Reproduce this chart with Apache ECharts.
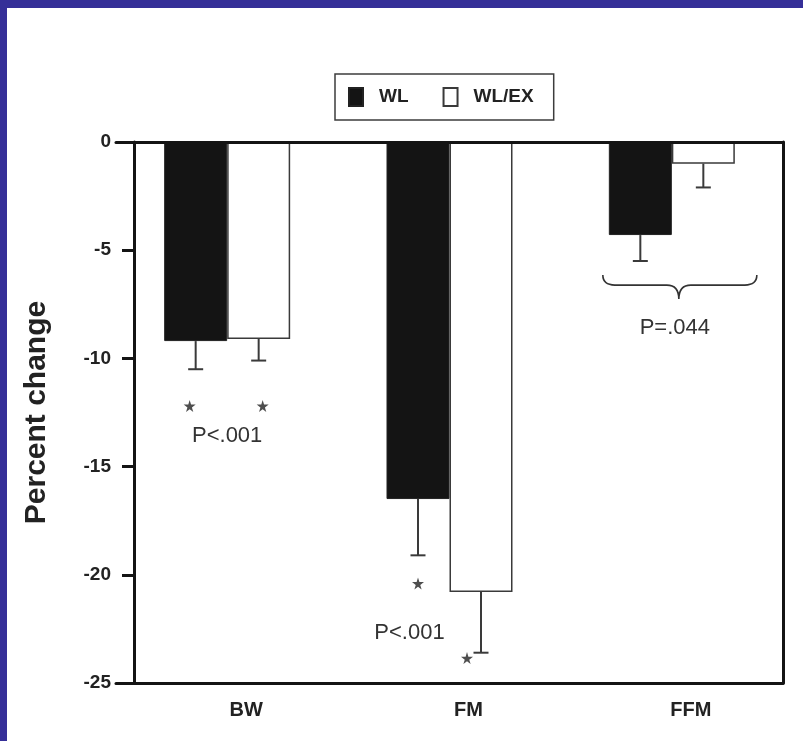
<!DOCTYPE html>
<html>
<head>
<meta charset="utf-8">
<title>Percent change</title>
<script src="https://cdn.jsdelivr.net/npm/echarts/dist/echarts.min.js"></script>
<style>
  html, body { margin: 0; padding: 0; background: #ffffff; }
  #wrap { position: relative; width: 803px; height: 741px; overflow: hidden; }
  #chart { position: absolute; left: 0; top: 0; width: 803px; height: 741px; }
  .edge { position: absolute; background: #352f98; z-index: 5; }
  .edge.top { left: 0; top: 0; width: 803px; height: 8px; }
  .edge.left { left: 0; top: 0; width: 7px; height: 741px; }
</style>
</head>
<body>
<div id="wrap">
  <div id="chart"></div>
  <div class="edge top"></div>
  <div class="edge left"></div>
</div>
<script>
// ---- data ----
const categories = ['BW', 'FM', 'FFM'];
const seriesNames = ['WL', 'WL/EX'];
const wlValues = [-9.2, -16.5, -4.3];
const wlErrors = [1.3, 2.6, 1.2];
const wlexValues = [-9.1, -20.8, -1.0];
const wlexErrors = [1.0, 2.8, 1.1];
const yMin = -25;
const yMax = 0;
const yStep = 5;
// significance stars (level on the y scale, null = none)
const wlStars = [-12.2, -20.4, null];
const wlexStars = [-12.2, -23.85, null];
// p-value notes per category and the level they sit at
const pTexts = ['P<.001', 'P<.001', 'P=.044'];
const pLevels = [-13.6, -22.7, -8.6];
// brace grouping the FFM pair (level of its upper ends)
const braceLevel = [-6.15];

// ---- styling ----
const BAR_W = 63;
const CAP_W = 15;
const INK = '#141414';
const SANS = "'Liberation Sans', Arial, sans-serif";
const STAR_PATH = 'path://M50,0 L61,35 L98,35 L68,57 L79,91 L50,70 L21,91 L32,57 L2,35 L39,35 Z';
const P_SHIFT = [0, -40, 3];          // horizontal nudges of the p-value notes
const STAR_SHIFT = [[-6, 0, 0], [4, -14, 0]];

const chart = echarts.init(document.getElementById('chart'), null, { renderer: 'canvas' });

function errorBars(values, errs, side) {
  return {
    type: 'custom',
    z: 4,
    silent: true,
    data: values.map((v, i) => [i, v, v - errs[i]]),
    renderItem(params, api) {
      const top = api.coord([api.value(0), api.value(1)]);
      const end = api.coord([api.value(0), api.value(2)]);
      const x = top[0] + side * BAR_W / 2;
      return {
        type: 'group',
        children: [
          { type: 'line', shape: { x1: x, y1: top[1], x2: x, y2: end[1] },
            style: { stroke: '#3a3a3a', lineWidth: 2 } },
          { type: 'line', shape: { x1: x - CAP_W / 2, y1: end[1], x2: x + CAP_W / 2, y2: end[1] },
            style: { stroke: '#3a3a3a', lineWidth: 2 } }
        ]
      };
    }
  };
}

function stars(levels, side, shifts) {
  const data = [];
  levels.forEach((v, i) => { if (v !== null) data.push({ value: [i, v], symbolOffset: [side * BAR_W / 2 + shifts[i], 0] }); });
  return {
    type: 'scatter',
    z: 5,
    silent: true,
    symbol: STAR_PATH,
    symbolSize: 12,
    itemStyle: { color: '#222' },
    data: data
  };
}

const option = {
  animation: false,
  backgroundColor: '#ffffff',
  legend: {
    data: seriesNames,
    left: 335,
    top: 74,
    orient: 'horizontal',
    selectedMode: false,
    padding: [13, 20, 13, 13],
    itemGap: 34,
    itemWidth: 14,
    itemHeight: 18,
    borderColor: '#3c3c3c',
    borderWidth: 1.5,
    icon: 'rect',
    textStyle: { fontFamily: SANS, fontWeight: 'bold', fontSize: 19, color: '#222', padding: [0, 0, 0, 11] }
  },
  grid: { left: 116, right: 20, top: 142, bottom: 58, containLabel: false },
  xAxis: [
    {
      type: 'category',
      data: categories,
      position: 'bottom',
      z: 10,
      axisLine: { onZero: false, lineStyle: { color: INK, width: 3 } },
      axisTick: { show: false },
      axisLabel: {
        margin: 17,
        fontFamily: SANS, fontWeight: 'bold', fontSize: 20, color: '#222',
        padding: [0, 0, 0, 38]
      },
      splitLine: { show: false }
    },
    {
      type: 'category',
      data: categories,
      position: 'top',
      z: 10,
      axisLine: { onZero: false, lineStyle: { color: INK, width: 3 } },
      axisTick: { show: false },
      axisLabel: { show: false },
      splitLine: { show: false }
    }
  ],
  yAxis: [
    {
      type: 'value',
      min: yMin,
      max: yMax,
      interval: yStep,
      position: 'left',
      offset: -18,
      z: 10,
      name: 'Percent change',
      nameLocation: 'middle',
      nameGap: 82,
      nameRotate: 90,
      nameTextStyle: { fontFamily: SANS, fontWeight: 'bold', fontSize: 30, color: '#222' },
      axisLine: { show: true, lineStyle: { color: INK, width: 3 } },
      axisTick: { show: true, length: 12, lineStyle: { color: INK, width: 3 } },
      axisLabel: { margin: 23, fontFamily: SANS, fontWeight: 'bold', fontSize: 19, color: '#222' },
      splitLine: { show: false }
    },
    {
      type: 'value',
      min: yMin,
      max: yMax,
      interval: yStep,
      position: 'right',
      z: 10,
      axisLine: { show: true, lineStyle: { color: INK, width: 3 } },
      axisTick: { show: false },
      axisLabel: { show: false },
      splitLine: { show: false }
    }
  ],
  series: [
    {
      name: 'WL',
      type: 'bar',
      barWidth: BAR_W,
      barGap: '0%',
      z: 2,
      itemStyle: { color: INK, borderColor: '#222', borderWidth: 1 },
      data: wlValues
    },
    {
      name: 'WL/EX',
      type: 'bar',
      barWidth: BAR_W,
      barGap: '0%',
      z: 2,
      itemStyle: { color: '#ffffff', borderColor: '#3a3a3a', borderWidth: 1.5 },
      data: wlexValues
    },
    errorBars(wlValues, wlErrors, -1),
    errorBars(wlexValues, wlexErrors, 1),
    stars(wlStars, -1, STAR_SHIFT[0]),
    stars(wlexStars, 1, STAR_SHIFT[1]),
    {
      type: 'custom',
      z: 5,
      silent: true,
      data: pTexts.map((t, i) => [i, pLevels[i], t]),
      renderItem(params, api) {
        const p = api.coord([api.value(0), api.value(1)]);
        return {
          type: 'text',
          x: p[0] + P_SHIFT[params.dataIndex],
          y: p[1],
          style: {
            text: pTexts[params.dataIndex],
            fontFamily: SANS, fontSize: 22, fill: '#333',
            align: 'center', verticalAlign: 'middle'
          }
        };
      }
    },
    {
      type: 'custom',
      z: 5,
      silent: true,
      data: braceLevel.map(v => [2, v]),
      renderItem(params, api) {
        const p = api.coord([api.value(0), api.value(1)]);
        const cx = p[0] + 7;
        const x0 = cx - 76, x1 = cx + 78;
        const yT = p[1], yM = p[1] + 10, yTip = p[1] + 24;
        const d = 'M' + x0 + ',' + yT +
          ' Q' + x0 + ',' + yM + ' ' + (x0 + 12) + ',' + yM +
          ' L' + (cx - 12) + ',' + yM +
          ' Q' + cx + ',' + yM + ' ' + cx + ',' + yTip +
          ' Q' + cx + ',' + yM + ' ' + (cx + 12) + ',' + yM +
          ' L' + (x1 - 12) + ',' + yM +
          ' Q' + x1 + ',' + yM + ' ' + x1 + ',' + yT;
        return {
          type: 'path',
          shape: { pathData: d },
          style: { fill: null, stroke: '#333', lineWidth: 1.6 }
        };
      }
    }
  ]
};

chart.setOption(option);
</script>
</body>
</html>
